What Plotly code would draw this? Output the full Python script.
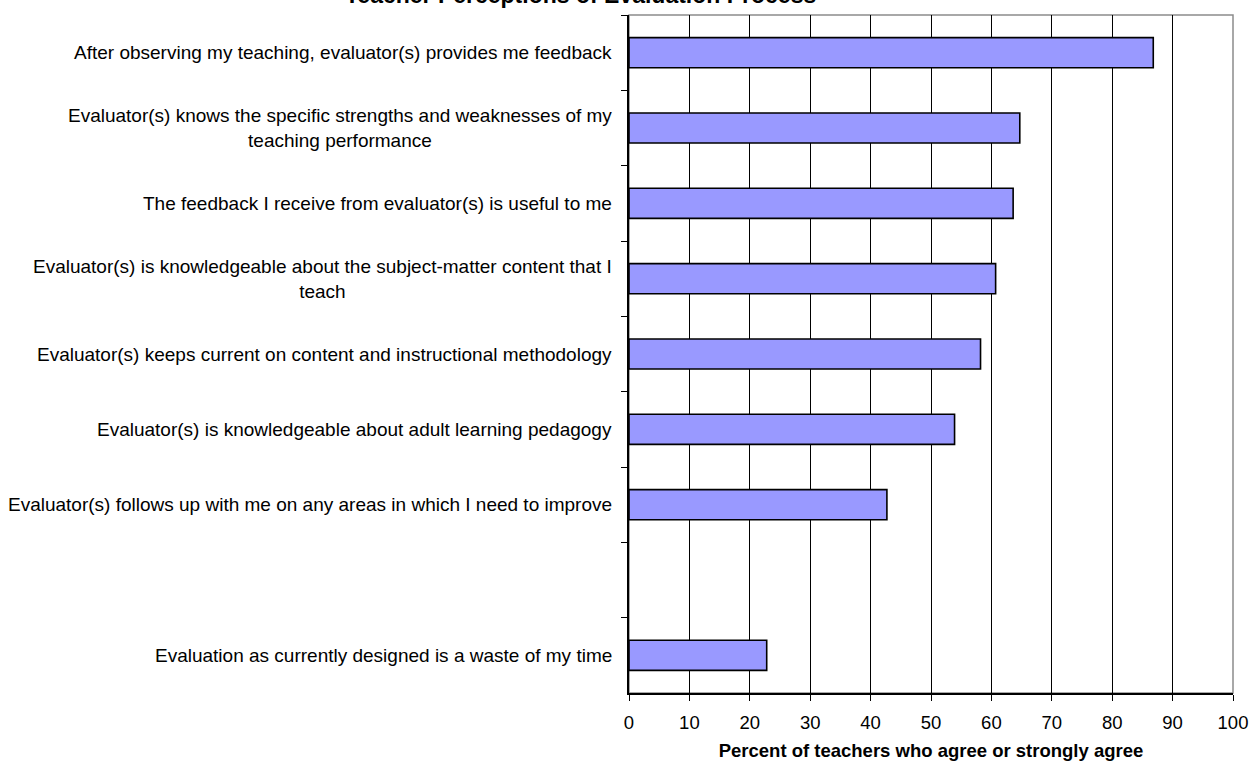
import plotly.graph_objects as go

# Survey statements, top to bottom (the blank entry is an intentional spacer row)
statements = [
    "After observing my teaching, evaluator(s) provides me feedback",
    "Evaluator(s) knows the specific strengths and weaknesses of my<br>teaching performance",
    "The feedback I receive from evaluator(s) is useful to me",
    "Evaluator(s) is knowledgeable about the subject-matter content that I<br>teach",
    "Evaluator(s) keeps current on content and instructional methodology",
    "Evaluator(s) is knowledgeable about adult learning pedagogy",
    "Evaluator(s) follows up with me on any areas in which I need to improve",
    " ",
    "Evaluation as currently designed is a waste of my time",
]
pct_agree = [86.8, 64.7, 63.6, 60.7, 58.2, 53.9, 42.7, None, 22.8]

x_ticks = [0, 10, 20, 30, 40, 50, 60, 70, 80, 90, 100]

FONT = "Liberation Sans, Arial, sans-serif"

fig = go.Figure(
    go.Bar(
        y=statements,
        x=pct_agree,
        orientation="h",
        marker=dict(color="#9999FF", line=dict(color="#000000", width=1.6)),
        hoverinfo="x+y",
    )
)

# Statement labels as centred multi-line annotations beside the axis
for s in statements:
    fig.add_annotation(
        x=0, xref="paper", xanchor="right", xshift=-15,
        y=s, yref="y", yanchor="middle",
        text=s, showarrow=False, align="center",
        font=dict(family=FONT, size=19, color="#000000"),
    )

# Title sits mostly above the visible page area
fig.add_annotation(
    x=0.5, xref="paper", xanchor="center", xshift=-351,
    y=1, yref="paper", yanchor="middle", yshift=20,
    text="<b>Teacher Perceptions of Evaluation Process</b>",
    showarrow=False, font=dict(family=FONT, size=23, color="#000000"),
)

# Grey frame on top and right of the plot area
fig.add_shape(type="rect", xref="paper", yref="paper", x0=0, x1=1, y0=0, y1=1,
              line=dict(color="#8c8c8c", width=1.5), layer="below")

fig.update_layout(
    width=1252, height=762,
    margin=dict(l=629, r=19, t=15, b=69),
    paper_bgcolor="white", plot_bgcolor="white",
    bargap=0.6,
    showlegend=False,
    font=dict(family=FONT, size=18, color="#000000"),
    xaxis=dict(
        range=[0, 100], tickvals=x_ticks, ticktext=[str(v) for v in x_ticks],
        showgrid=True, gridcolor="#000000", gridwidth=1,
        showline=True, linecolor="#000000", linewidth=1.5,
        ticks="outside", ticklen=6, tickcolor="#000000", tickwidth=1,
        ticklabelstandoff=6,
        zeroline=False, tickfont=dict(family=FONT, size=18.5),
        automargin=False,
        title=dict(text="<b>Percent of teachers who agree or strongly agree</b>",
                   font=dict(family=FONT, size=18.5), standoff=12),
    ),
    yaxis=dict(
        type="category", categoryorder="array", categoryarray=statements,
        autorange="reversed", showticklabels=False,
        tickson="boundaries", ticks="outside", ticklen=6,
        tickcolor="#000000", tickwidth=1,
        showline=True, linecolor="#000000", linewidth=1.5,
        showgrid=False, zeroline=False, automargin=False,
    ),
)

fig.write_html("out.html")
